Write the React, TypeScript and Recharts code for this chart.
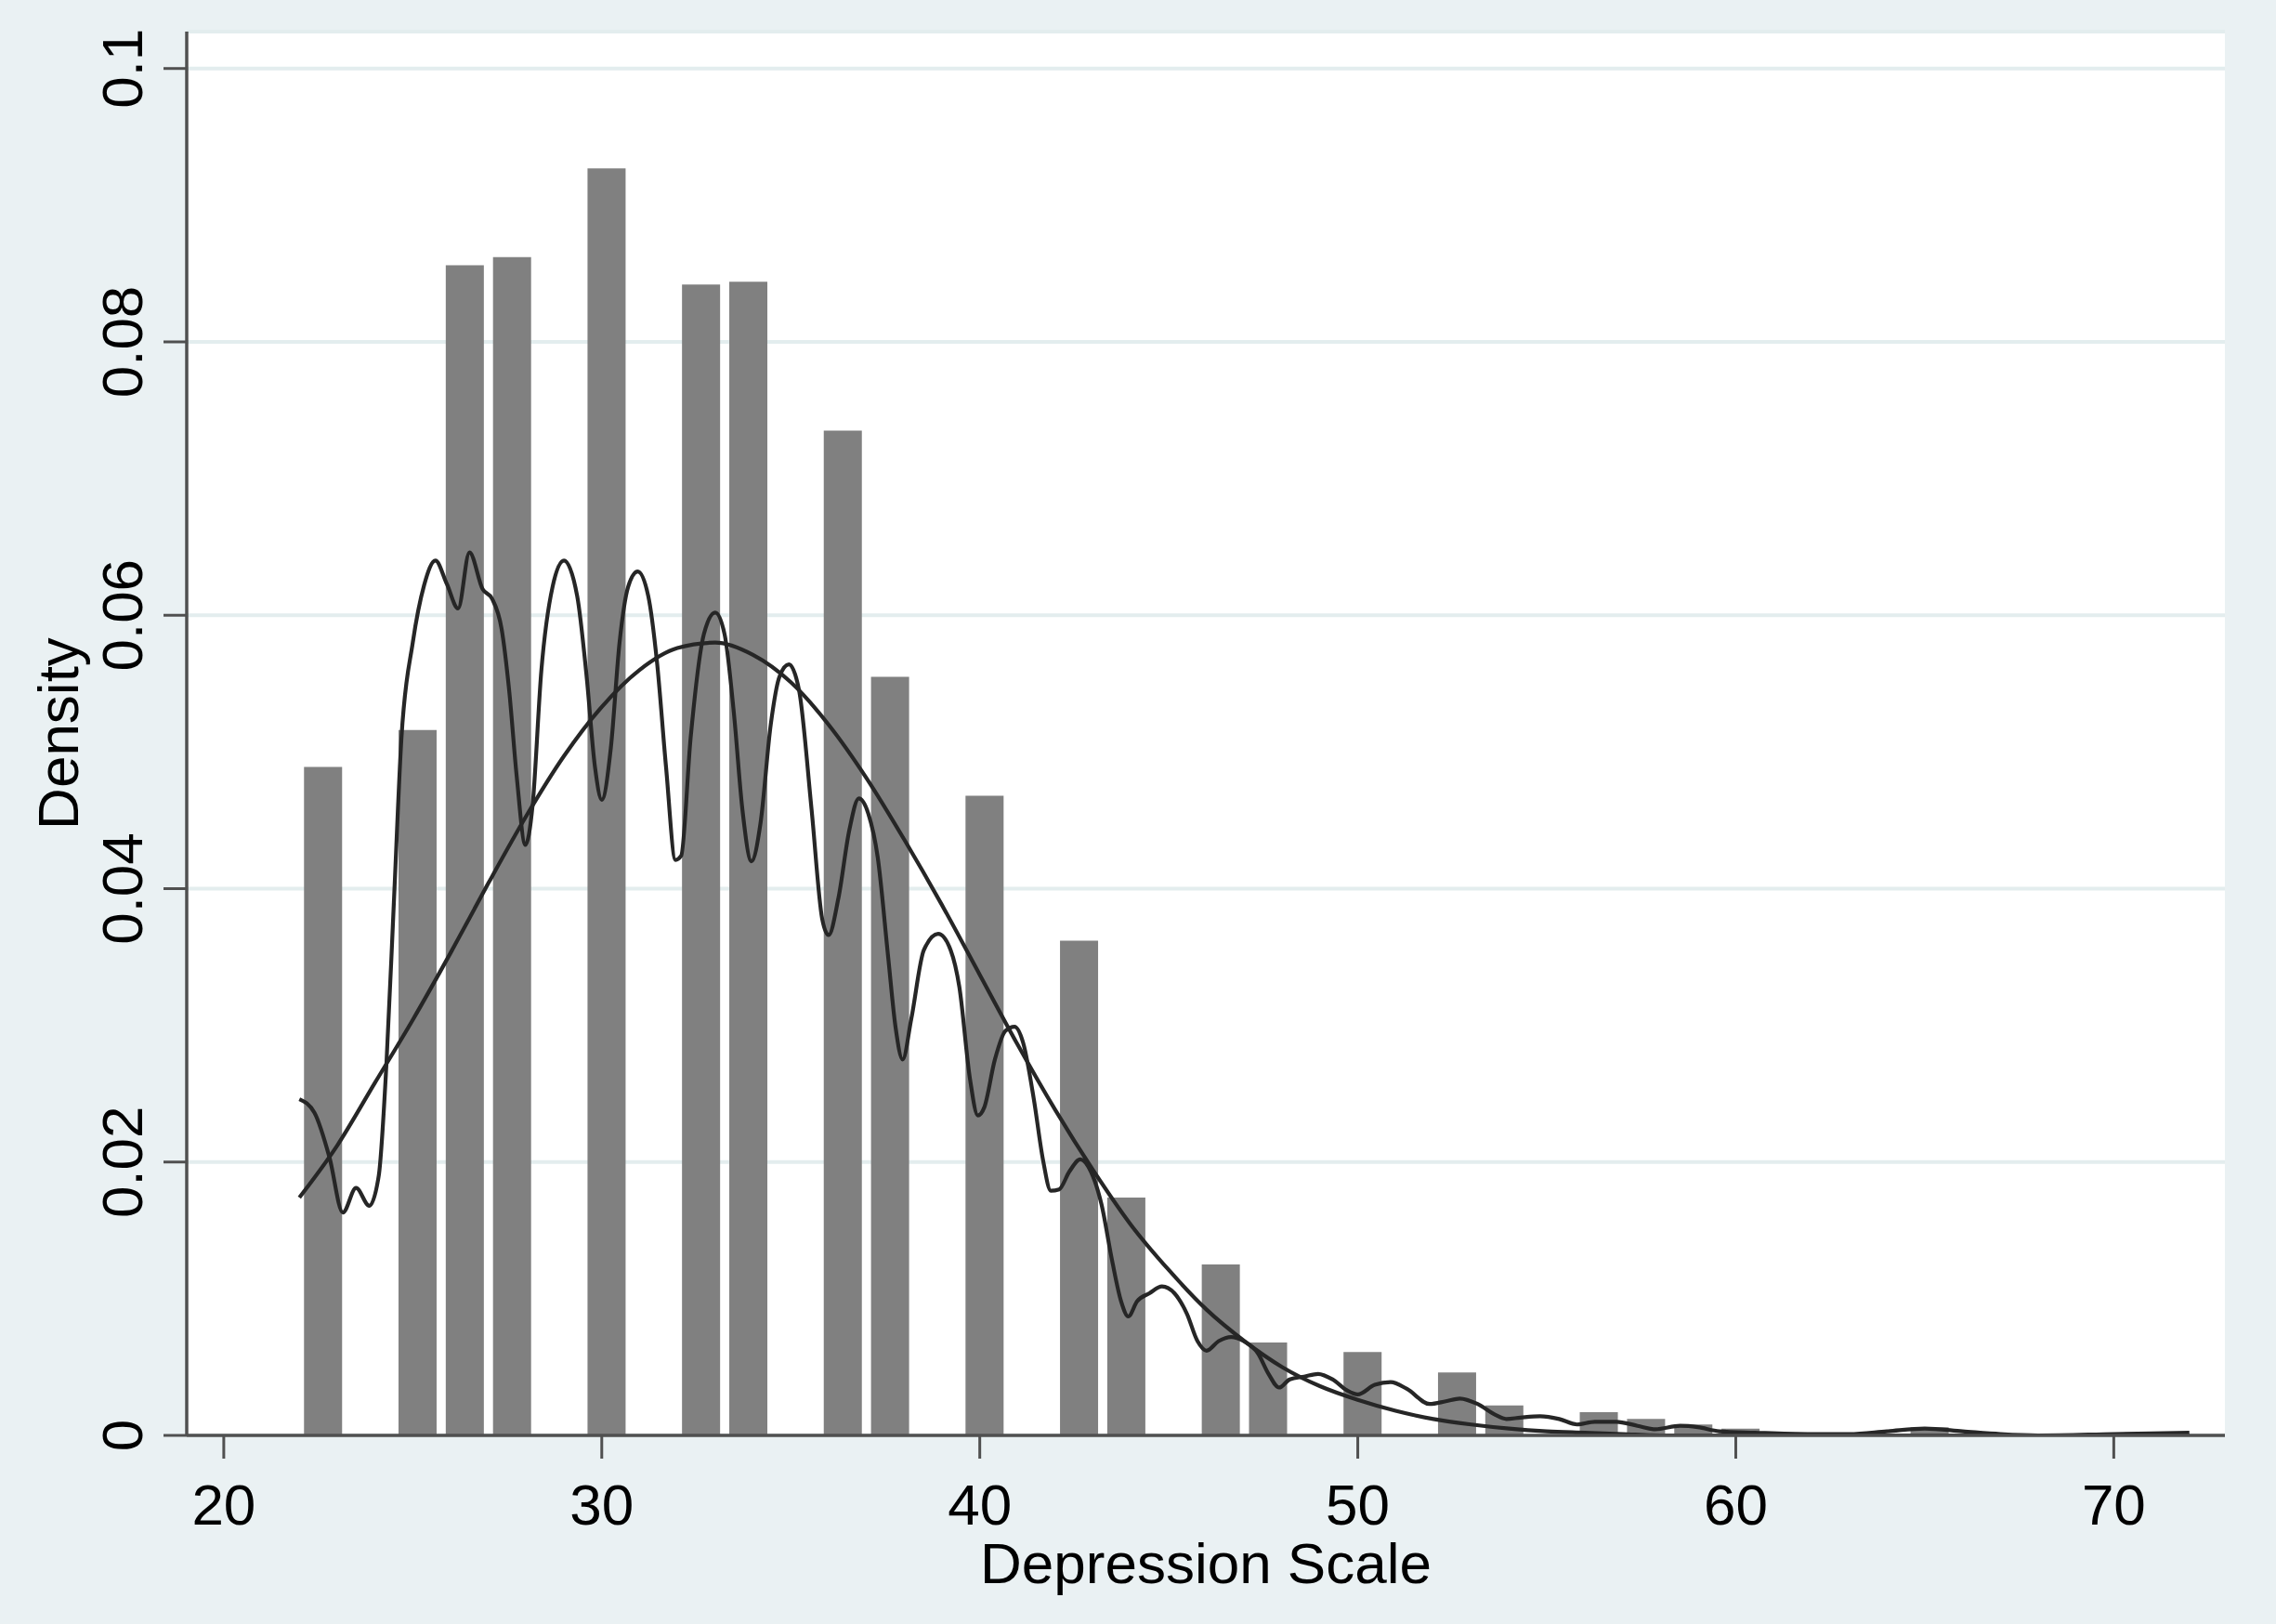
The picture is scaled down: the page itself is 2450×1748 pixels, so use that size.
import {
  Bar,
  CartesianGrid,
  ComposedChart,
  Label,
  Line,
  XAxis,
  YAxis,
} from 'recharts'

// histogram: 40 bins of width 1.25 starting at 22
const BIN_CENTERS = [
  22.625, 23.875, 25.125, 26.375, 27.625, 28.875, 30.125, 31.375, 32.625, 33.875,
  35.125, 36.375, 37.625, 38.875, 40.125, 41.375, 42.625, 43.875, 45.125, 46.375,
  47.625, 48.875, 50.125, 51.375, 52.625, 53.875, 55.125, 56.375, 57.625, 58.875,
  60.125, 61.375, 62.625, 63.875, 65.125, 66.375, 67.625, 68.875, 70.125, 71.375,
]
const BIN_DENSITY = [
  0.0489, 0, 0.0516, 0.0856, 0.0862, 0, 0.0927, 0, 0.0842, 0.0844,
  0, 0.0735, 0.0555, 0, 0.0468, 0, 0.0362, 0.0174, 0, 0.0125,
  0.0068, 0, 0.0061, 0, 0.0046, 0.0022, 0, 0.0017, 0.0012, 0.0008,
  0.0005, 0, 0, 0, 0.0006, 0, 0, 0, 0, 0.0002,
]

// kernel density estimate (narrow bandwidth)
const KERNEL_X = [
  22.0, 22.4, 22.8, 23.15, 23.5, 23.85, 24.1, 24.3, 24.5, 24.7,
  25.0, 25.3, 25.6, 25.9, 26.2, 26.5, 26.85, 27.1, 27.35, 27.55,
  27.75, 27.98, 28.17, 28.4, 28.7, 29.0, 29.35, 29.6, 29.82, 30.0,
  30.24, 30.47, 30.7, 30.95, 31.23, 31.46, 31.7, 31.95, 32.1, 32.35,
  32.7, 33.0, 33.25, 33.5, 33.72, 33.96, 34.2, 34.47, 34.7, 34.95,
  35.22, 35.55, 35.83, 36.0, 36.26, 36.55, 36.8, 37.05, 37.3, 37.58,
  37.77, 37.96, 38.19, 38.52, 38.9, 39.23, 39.46, 39.74, 39.95, 40.12,
  40.4, 40.68, 40.92, 41.15, 41.43, 41.67, 41.88, 42.1, 42.37, 42.66,
  42.94, 43.22, 43.5, 43.74, 43.93, 44.16, 44.49, 44.82, 45.15, 45.48,
  45.76, 46.0, 46.32, 46.65, 46.98, 47.36, 47.64, 47.92, 48.2, 48.58,
  48.95, 49.33, 49.71, 50.0, 50.45, 50.87, 51.3, 51.9, 52.33, 52.7,
  53.17, 53.64, 53.93, 54.3, 54.82, 55.33, 55.8, 56.27, 56.84, 57.4,
  57.87, 58.53, 59.0, 59.56, 60.5, 61.9, 63.0, 64.0, 65.0, 66.0,
  67.0, 68.0, 70.0, 72.0,
]
const KERNEL_Y = [
  0.0246, 0.0236, 0.0203, 0.0163, 0.0181, 0.0168, 0.019, 0.027, 0.039, 0.051,
  0.058, 0.0622, 0.064, 0.0623, 0.0605, 0.0646, 0.0619, 0.0612, 0.059, 0.0545,
  0.0482, 0.0432, 0.0461, 0.0559, 0.0621, 0.064, 0.0614, 0.0555, 0.0489, 0.0465,
  0.0503, 0.058, 0.0621, 0.0632, 0.0614, 0.0566, 0.0489, 0.0421, 0.0424, 0.051,
  0.0586, 0.0602, 0.0586, 0.0527, 0.0458, 0.042, 0.0448, 0.052, 0.0555, 0.0564,
  0.0545, 0.0458, 0.0378, 0.0366, 0.0393, 0.0443, 0.0466, 0.0455, 0.0423, 0.0349,
  0.0299, 0.0275, 0.0305, 0.0355, 0.0367, 0.0355, 0.0328, 0.0261, 0.0234, 0.024,
  0.0275, 0.0296, 0.0299, 0.0287, 0.0246, 0.0202, 0.0179, 0.018, 0.0193, 0.0202,
  0.0193, 0.0169, 0.0128, 0.0098, 0.0087, 0.0098, 0.0104, 0.0109, 0.0104, 0.0089,
  0.0069, 0.0062, 0.0069, 0.0072, 0.0069, 0.006, 0.0045, 0.0035, 0.0041, 0.0043,
  0.0045, 0.0041, 0.0033, 0.003, 0.0037, 0.0039, 0.0034, 0.0023, 0.0025, 0.0027,
  0.0023, 0.0015, 0.0012, 0.0013, 0.0014, 0.0012, 0.0008, 0.001, 0.001, 0.0007,
  0.00045, 0.0007, 0.0006, 0.0003, 0.0002, 0.0001, 0.0001, 0.0003, 0.0005, 0.0003,
  0.0001, 0, 0.0001, 0.0002,
]

// normal density overlay
const NORMAL_X = [
  22, 23, 24, 25, 26, 27, 28, 29, 30, 31, 32, 33, 34, 35, 36, 37, 38,
  39, 40, 41, 42, 43, 44, 45, 46, 47, 48, 49, 50, 51, 52, 53, 54, 55,
  56, 57, 58, 60, 62, 64, 66, 68, 70, 72,
]
const NORMAL_Y = [
  0.0174, 0.0212, 0.0258, 0.0304, 0.0353, 0.0404, 0.0453, 0.0497, 0.0533, 0.056,
  0.0576, 0.058, 0.0571, 0.0551, 0.052, 0.0481, 0.0436, 0.0388, 0.0337, 0.0286,
  0.0238, 0.0194, 0.0154, 0.0121, 0.0092, 0.0069, 0.005, 0.0036, 0.0026, 0.0018,
  0.0012, 0.0008, 0.0005, 0.0003, 0.0002, 0.0001, 0, 0, 0, 0, 0, 0, 0, 0,
]

const X_TICKS = [20, 30, 40, 50, 60, 70]
const Y_TICKS = [0, 0.02, 0.04, 0.06, 0.08, 0.1]

const bins = BIN_CENTERS.map((x, i) => ({ x, density: BIN_DENSITY[i] }))
const kernel = KERNEL_X.map((x, i) => ({ x, density: KERNEL_Y[i] }))
const normal = NORMAL_X.map((x, i) => ({ x, density: NORMAL_Y[i] }))

const X_DOMAIN: [number, number] = [19.02, 72.94]
const Y_DOMAIN: [number, number] = [0, 0.1027]

const FONT = '"Liberation Sans", Arial, Helvetica, sans-serif'
const BG = '#eaf1f3'
const GRID = '#e3edee'
const AXIS = '#505050'
const BAR = '#808080'
const CURVE = '#262626'

function YTick({ x, y, payload }: any) {
  return (
    <text
      x={x}
      y={y}
      transform={`rotate(-90, ${x}, ${y})`}
      textAnchor="middle"
      fill="#000"
      fontSize={62}
      fontFamily={FONT}
    >
      {String(payload.value)}
    </text>
  )
}

function XTitle({ viewBox }: any) {
  const { x, y, width } = viewBox
  return (
    <text
      x={x + width / 2}
      y={y + 159}
      textAnchor="middle"
      fill="#000"
      fontSize={62}
      fontFamily={FONT}
    >
      Depression Scale
    </text>
  )
}

function YTitle({ viewBox }: any) {
  const { x, y, height } = viewBox
  const cx = x + 84
  const cy = y + height / 2
  return (
    <text
      x={cx}
      y={cy}
      transform={`rotate(-90, ${cx}, ${cy})`}
      textAnchor="middle"
      fill="#000"
      fontSize={62}
      fontFamily={FONT}
    >
      Density
    </text>
  )
}

function App() {
  return (
    <div
      style={{
        position: 'absolute',
        left: 0,
        top: 0,
        width: 2450,
        height: 1748,
        background: BG,
      }}
    >
      <ComposedChart
        width={2450}
        height={1748}
        data={bins}
        margin={{ top: 34, right: 55, bottom: 0, left: 0 }}
      >
        <CartesianGrid
          vertical={false}
          stroke={GRID}
          strokeWidth={4}
          fill="#ffffff"
          fillOpacity={1}
        />
        <XAxis
          dataKey="x"
          type="number"
          domain={X_DOMAIN}
          ticks={X_TICKS}
          allowDataOverflow
          height={203}
          tickSize={25}
          tickMargin={27}
          axisLine={{ stroke: AXIS, strokeWidth: 3.5 }}
          tickLine={{ stroke: AXIS, strokeWidth: 3 }}
          tick={{ fontSize: 62, fill: '#000', fontFamily: FONT }}
        >
          <Label content={XTitle} />
        </XAxis>
        <XAxis
          xAxisId="curve"
          dataKey="x"
          type="number"
          domain={X_DOMAIN}
          allowDataOverflow
          hide
        />
        <YAxis
          type="number"
          domain={Y_DOMAIN}
          ticks={Y_TICKS}
          allowDataOverflow
          width={201}
          tickSize={25}
          tickMargin={23}
          axisLine={{ stroke: AXIS, strokeWidth: 3.5 }}
          tickLine={{ stroke: AXIS, strokeWidth: 3 }}
          tick={<YTick />}
        >
          <Label content={YTitle} />
        </YAxis>
        <Bar
          dataKey="density"
          fill={BAR}
          barSize={41}
          isAnimationActive={false}
        />
        <Line
          xAxisId="curve"
          data={normal}
          dataKey="density"
          type="monotone"
          stroke={CURVE}
          strokeWidth={4.2}
          dot={false}
          activeDot={false}
          isAnimationActive={false}
        />
        <Line
          xAxisId="curve"
          data={kernel}
          dataKey="density"
          type="monotone"
          stroke={CURVE}
          strokeWidth={4.2}
          dot={false}
          activeDot={false}
          isAnimationActive={false}
        />
      </ComposedChart>
    </div>
  )
}

export default App
